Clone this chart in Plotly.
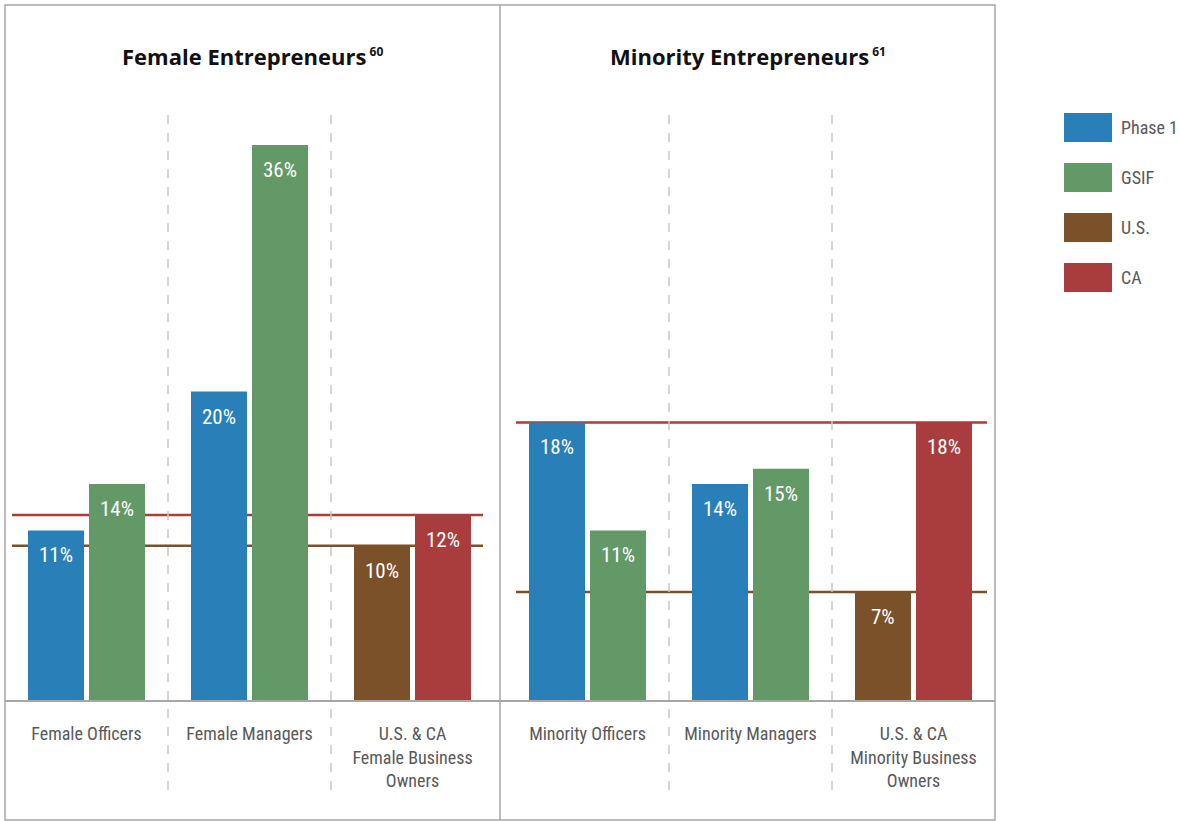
import plotly.graph_objects as go

# ---- data -------------------------------------------------------------
female_categories = ["Female Officers", "Female Managers",
                     "U.S. & CA<br>Female Business<br>Owners"]
minority_categories = ["Minority Officers", "Minority Managers",
                       "U.S. & CA<br>Minority Business<br>Owners"]

female_phase1 = [11, 20]
female_gsif = [14, 36]
female_us = [10]
female_ca = [12]

minority_phase1 = [18, 14]
minority_gsif = [11, 15]
minority_us = [7]
minority_ca = [18]

series_names = ["Phase 1", "GSIF", "U.S.", "CA"]
series_colors = ["#2980B9", "#629966", "#7A5129", "#A93D3D"]

panel_titles = ["Female Entrepreneurs", "Minority Entrepreneurs"]
panel_notes = ["60", "61"]

# ---- styling ----------------------------------------------------------
W, H = 1179, 821
NARROW = "Roboto Condensed, DejaVu Sans Condensed, sans-serif"
BOLD = "Open Sans, Noto Sans, sans-serif"
GREY_TXT = "#595959"
BORDER = "#a6a6a6"

UNIT = 163.0            # pixels per category step
BAR_W = 56 / UNIT
GAP = 5 / UNIT
LEFT_OFF = -(BAR_W + GAP / 2)
RIGHT_OFF = GAP / 2

fig = go.Figure()

panels = [
    dict(xa="x", ya="y", cats=female_categories, p1=female_phase1, gs=female_gsif,
         us=female_us, ca=female_ca),
    dict(xa="x2", ya="y", cats=minority_categories, p1=minority_phase1, gs=minority_gsif,
         us=minority_us, ca=minority_ca),
]

annotations = []
shapes = []

for p in panels:
    groups = [
        ([0, 1], p["p1"], LEFT_OFF, 0),
        ([0, 1], p["gs"], RIGHT_OFF, 1),
        ([2], p["us"], LEFT_OFF, 2),
        ([2], p["ca"], RIGHT_OFF, 3),
    ]
    for xs, vals, off, si in groups:
        fig.add_trace(go.Bar(
            x=xs, y=vals, offset=off, width=BAR_W,
            marker=dict(color=series_colors[si], line=dict(width=0)),
            name=series_names[si], showlegend=False,
            xaxis=p["xa"], yaxis=p["ya"], hoverinfo="skip",
        ))
        for xv, v in zip(xs, vals):
            annotations.append(dict(
                x=xv + off + BAR_W / 2, y=v, xref=p["xa"], yref=p["ya"],
                text=f"{v}%", showarrow=False, yshift=-25, yanchor="middle",
                font=dict(family=NARROW, size=21, color="white"),
            ))

    # reference lines for U.S. and CA averages, behind the bars
    dom = p["xa"] + " domain"
    if p["xa"] == "x":
        x0, x1 = 7 / 495, 478 / 495
    else:
        x0, x1 = 16 / 495, 487 / 495
    for vals, si in ((p["us"], 2), (p["ca"], 3)):
        shapes.append(dict(type="line", layer="below", xref=dom, yref=p["ya"],
                           x0=x0, x1=x1, y0=vals[0], y1=vals[0],
                           line=dict(color=series_colors[si], width=2.5)))

    # dashed separators between categories
    for xv in (0.5, 1.5):
        shapes.append(dict(type="line", layer="below", xref=p["xa"], yref="paper",
                           x0=xv, x1=xv, y0=31 / H, y1=(H - 115) / H,
                           line=dict(color="#c8c8c8", width=1.5, dash="dash")))

# panel titles with footnote markers
for i, (t, n) in enumerate(zip(panel_titles, panel_notes)):
    annotations.append(dict(
        x=0.5, y=(H - 56) / H, xref=("x" if i == 0 else "x2") + " domain", yref="paper",
        text=f"<b>{t}<sup><span style='font-size:12px'> {n}</span></sup></b>",
        showarrow=False, yanchor="middle",
        font=dict(family=BOLD, size=22, color="#111111"),
    ))

# outer frame and panel divider
shapes.append(dict(type="rect", xref="paper", yref="paper",
                   x0=5 / W, x1=995 / W, y0=1 / H, y1=(H - 5) / H,
                   line=dict(color=BORDER, width=1.5)))
shapes.append(dict(type="line", xref="paper", yref="paper",
                   x0=500 / W, x1=500 / W, y0=1 / H, y1=(H - 5) / H,
                   line=dict(color=BORDER, width=1.5)))

# legend swatches
for i, (name, col) in enumerate(zip(series_names, series_colors)):
    top = 113 + 50 * i
    shapes.append(dict(type="rect", xref="paper", yref="paper",
                       x0=1064 / W, x1=1112 / W, y0=(H - top - 29) / H, y1=(H - top) / H,
                       fillcolor=col, line=dict(width=0)))
    annotations.append(dict(
        x=1119 / W, y=(H - top - 14.5) / H, xref="paper", yref="paper",
        text=name, showarrow=False, xanchor="left", yanchor="middle",
        font=dict(family=NARROW, size=18, color=GREY_TXT),
    ))

y_top = (700 - 5) / 15.42
axis_common = dict(
    tickmode="array", tickvals=[0, 1, 2],
    ticks="outside", ticklen=17, tickcolor="rgba(0,0,0,0)",
    tickfont=dict(family=NARROW, size=18, color=GREY_TXT),
    showgrid=False, zeroline=False, showline=True,
    linecolor=BORDER, linewidth=1.5, fixedrange=True,
)

fig.update_layout(
    width=W, height=H, margin=dict(l=0, r=0, t=0, b=0),
    paper_bgcolor="white", plot_bgcolor="white",
    barmode="overlay", showlegend=False,
    xaxis=dict(domain=[5 / W, 500 / W], range=[(5 - 86.5) / UNIT, (500 - 86.5) / UNIT],
               ticktext=female_categories, **axis_common),
    xaxis2=dict(domain=[500 / W, 995 / W], range=[(500 - 587.5) / UNIT, (995 - 587.5) / UNIT],
                ticktext=minority_categories, anchor="y", **axis_common),
    yaxis=dict(domain=[121 / H, (H - 5) / H], range=[0, y_top], visible=False,
               fixedrange=True),
    annotations=annotations, shapes=shapes,
)

fig.write_html("out.html")
